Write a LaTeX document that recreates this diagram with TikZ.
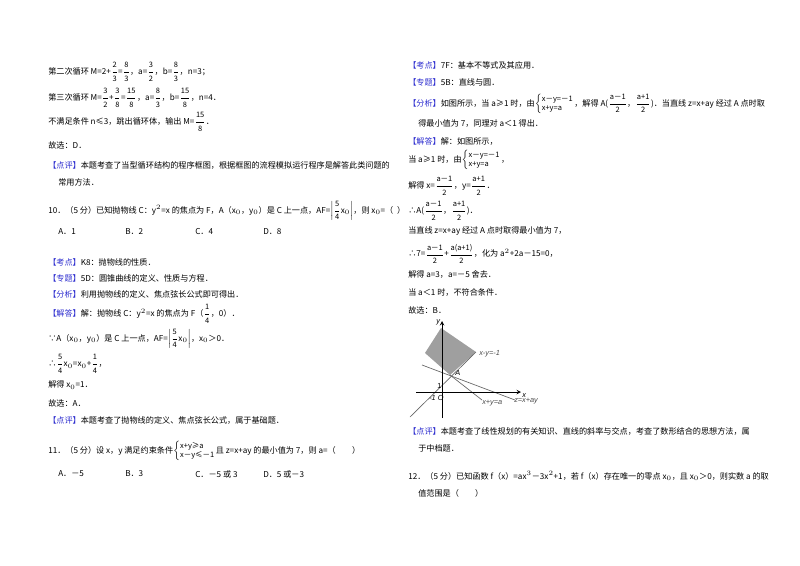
\documentclass[tikz,border=0pt]{standalone}
\usepackage{fontspec}
\usepackage{amsmath}
\setmainfont{Liberation Sans}
\newfontfamily\cjk{Noto Sans CJK SC}
\definecolor{kb}{HTML}{2F2FD0}
\newcommand{\fr}[2]{\genfrac{}{}{0.4pt}{0}{\mbox{\fontsize{5.6}{6}\selectfont #1}}{\mbox{\fontsize{5.6}{6}\selectfont #2}}}
\begin{document}
\begin{tikzpicture}[x=0.75pt,y=-0.75pt,
 t/.style={anchor=west,inner sep=0pt,font=\cjk\fontsize{6.1}{8}\selectfont},
 ax/.style={line width=0.5pt,-stealth},
 ln/.style={line width=0.5pt,gray!80!black}]
\useasboundingbox (0,0) rectangle (800,565);
\fill[white] (0,0) rectangle (800,565);
\newcommand{\kb}[1]{{\color{kb}【#1】}}
\newcommand{\sy}[2]{$\left\{\mbox{\fontsize{5.6}{6.5}\selectfont\begin{tabular}{@{}l@{}}#1\\ #2\end{tabular}}\right.$}
% left column
\node[t] (l1) at (48,72) {第二次循环 M=2+$\fr{2}{3}$=$\fr{8}{3}$，a=$\fr{3}{2}$，b=$\fr{8}{3}$，n=3；};
\node[t] (l2) at (48,98) {第三次循环 M=$\fr{3}{2}$+$\fr{3}{8}$=$\fr{15}{8}$，a=$\fr{8}{3}$，b=$\fr{15}{8}$，n=4．};
\node[t] (l3) at (48,122) {不满足条件 n≤3，跳出循环体，输出 M=$\fr{15}{8}$．};
\node[t] (l4) at (48,145) {故选：D．};
\node[t] (l5) at (48,165) {\kb{点评}本题考查了当型循环结构的程序框图，根据框图的流程模拟运行程序是解答此类问题的};
\node[t] (l6) at (58,182) {常用方法．};
\node[t] (l7) at (48,211) {10．（5 分）已知抛物线 C：y$^2$=x 的焦点为 F，A（x$_0$，y$_0$）是 C 上一点，AF=$\left|\fr{5}{4}\mbox{x$_0$}\right|$，则 x$_0$=（\ \ ）};
\node[t] (o1) at (58,232) {A．1};
\node[t] (o2) at (125,232) {B．2};
\node[t] (o3) at (195,232) {C．4};
\node[t] (o4) at (263,232) {D．8};
\node[t] (l8) at (48,262) {\kb{考点}K8：抛物线的性质．};
\node[t] (l9) at (48,278) {\kb{专题}5D：圆锥曲线的定义、性质与方程．};
\node[t] (l10) at (48,294) {\kb{分析}利用抛物线的定义、焦点弦长公式即可得出．};
\node[t] (l11) at (48,314) {\kb{解答}解：抛物线 C：y$^2$=x 的焦点为 F（$\fr{1}{4}$，0）．};
\node[t] (l12) at (48,339) {∵A（x$_0$，y$_0$）是 C 上一点，AF=$\left|\fr{5}{4}\mbox{x$_0$}\right|$，x$_0$＞0．};
\node[t] (l13) at (48,364) {∴$\fr{5}{4}$x$_0$=x$_0$+$\fr{1}{4}$，};
\node[t] (l14) at (48,385) {解得 x$_0$=1．};
\node[t] (l15) at (48,403) {故选：A．};
\node[t] (l16) at (48,420) {\kb{点评}本题考查了抛物线的定义、焦点弦长公式，属于基础题．};
\node[t] (l17) at (48,451) {11．（5 分）设 x，y 满足约束条件\sy{x+y≥a}{x－y≤－1}且 z=x+ay 的最小值为 7，则 a=（\quad\quad）};
\node[t] (p1) at (58,474) {A．－5};
\node[t] (p2) at (125,474) {B．3};
\node[t] (p3) at (195,474) {C．－5 或 3};
\node[t] (p4) at (263,474) {D．5 或－3};
% right column
\node[t] (r1) at (408,65) {\kb{考点}7F：基本不等式及其应用．};
\node[t] (r2) at (408,82) {\kb{专题}5B：直线与圆．};
\node[t] (r3) at (408,104) {\kb{分析}如图所示，当 a≥1 时，由\sy{x－y=－1}{x+y=a}，解得 A($\fr{a－1}{2}$，$\fr{a+1}{2}$)．当直线 z=x+ay 经过 A 点时取};
\node[t] (r4) at (418,124) {得最小值为 7，同理对 a＜1 得出．};
\node[t] (r5) at (408,141) {\kb{解答}解：如图所示，};
\node[t] (r6) at (408,160) {当 a≥1 时，由\sy{x－y=－1}{x+y=a}，};
\node[t] (r7) at (408,186) {解得 x=$\fr{a－1}{2}$，y=$\fr{a+1}{2}$．};
\node[t] (r8) at (408,211) {∴A($\fr{a－1}{2}$，$\fr{a+1}{2}$)．};
\node[t] (r9) at (408,231) {当直线 z=x+ay 经过 A 点时取得最小值为 7，};
\node[t] (r10) at (408,254) {∴7=$\fr{a－1}{2}$+$\fr{a(a+1)}{2}$，化为 a$^2$+2a－15=0，};
\node[t] (r11) at (408,274) {解得 a=3，a=－5 舍去．};
\node[t] (r12) at (408,292) {当 a＜1 时，不符合条件．};
\node[t] (r13) at (408,310) {故选：B．};
\node[t] (r14) at (408,431) {\kb{点评}本题考查了线性规划的有关知识、直线的斜率与交点，考查了数形结合的思想方法，属};
\node[t] (r15) at (418,448) {于中档题．};
\node[t] (r16) at (408,476) {12．（5 分）已知函数 f（x）=ax$^3$－3x$^2$+1，若 f（x）存在唯一的零点 x$_0$，且 x$_0$＞0，则实数 a 的取};
\node[t] (r17) at (418,493) {值范围是（\quad\quad）};
% graph
\fill[gray!75] (441,328) -- (476,352) -- (450,375) -- (425,353) -- cycle;
\coordinate (A) at (450,375);
\coordinate (z1) at (422,365); \coordinate (z2) at (515,400);
\coordinate (s1) at (482,400);
\coordinate (d1) at (410,417); \coordinate (d2) at (476,352);
\draw[ln] (z1) -- (z2);
\draw[ln] (A) -- (s1);
\draw[ln] (d1) -- (d2);
\draw[ax] (416,392) -- (521,392);
\draw[ax] (442,418) -- (442,321);
\node[t,font=\itshape\fontsize{5.5}{6}\selectfont] (ly) at (436,322) {y};
\node[t,font=\itshape\fontsize{5.5}{6}\selectfont] (lx) at (522,396) {x};
\node[t,font=\itshape\fontsize{5.5}{6}\selectfont,gray!60!black] (lxy) at (479,354) {x-y=-1};
\node[t,font=\itshape\fontsize{5.5}{6}\selectfont] (lA) at (455,373) {A};
\node[t,font=\fontsize{5.5}{6}\selectfont] (l1) at (437,386) {1};
\node[t,font=\itshape\fontsize{5.5}{6}\selectfont] (lO) at (429,398) {-1 O};
\node[t,font=\itshape\fontsize{5.5}{6}\selectfont,gray!60!black] (lxa) at (482,403) {x+y=a};
\node[t,font=\itshape\fontsize{5.5}{6}\selectfont,gray!60!black] (lz) at (514,401) {z=x+ay};
\end{tikzpicture}
\end{document}
